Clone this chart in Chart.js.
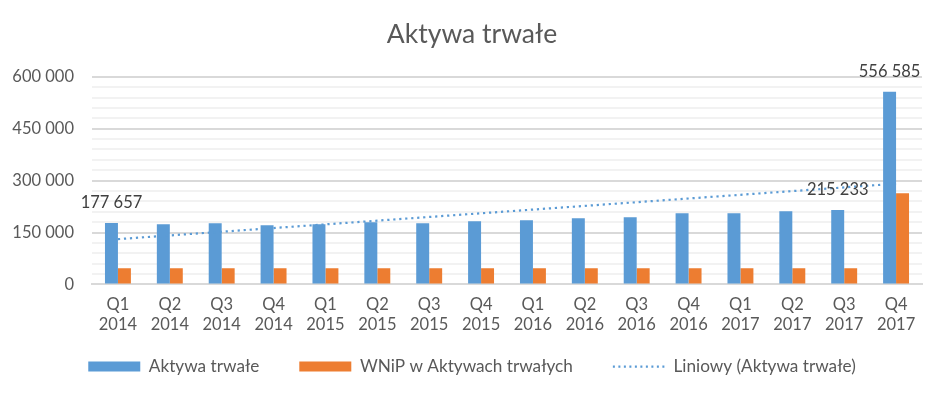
<!DOCTYPE html>
<html>
<head>
<meta charset="utf-8">
<script src="https://cdn.jsdelivr.net/npm/chart.js@4"></script>
<style>
  html, body { margin: 0; padding: 0; background: #fff; }
  #wrap { width: 944px; height: 397px; }
</style>
</head>
<body>
<div id="wrap"><canvas id="myChart" width="944" height="397"></canvas></div>
<script>
// Dane wykresu
const quarters = [
    ['Q1', '2014'], ['Q2', '2014'], ['Q3', '2014'], ['Q4', '2014'],
    ['Q1', '2015'], ['Q2', '2015'], ['Q3', '2015'], ['Q4', '2015'],
    ['Q1', '2016'], ['Q2', '2016'], ['Q3', '2016'], ['Q4', '2016'],
    ['Q1', '2017'], ['Q2', '2017'], ['Q3', '2017'], ['Q4', '2017']
];
const aktywaTrwale = [177657, 173600, 176600, 170700, 173600, 179400, 176600, 182300,
                      185200, 191000, 193900, 205500, 205500, 211300, 215233, 556585];
const wnip = [47000, 47000, 47000, 47000, 47000, 47000, 47000, 47000,
              47000, 47000, 47000, 47000, 47000, 47000, 47000, 263400];
const labelledPoints = [0, 14, 15]; // słupki z etykietą wartości
const yTicks = [0, 150000, 300000, 450000, 600000];

const textColor = '#595959';
const fontName = 'Lato';
const legendShift = 19; // przesunięcie legendy w górę (px)

// Linia trendu (regresja liniowa, jak w Excelu)
function linearTrend(values) {
    const n = values.length;
    let sx = 0, sy = 0, sxy = 0, sxx = 0;
    values.forEach((v, i) => {
        const x = i + 1;
        sx += x; sy += v; sxy += x * v; sxx += x * x;
    });
    const b = (n * sxy - sx * sy) / (n * sxx - sx * sx);
    const a = (sy - b * sx) / n;
    return values.map((v, i) => a + b * (i + 1));
}

function formatNumber(v) {
    return String(Math.round(v)).replace(/\B(?=(\d{3})+(?!\d))/g, ' ');
}

// Etykiety wartości nad wybranymi słupkami
const valueLabels = {
    id: 'valueLabels',
    afterDatasetsDraw(chart) {
        const ctx = chart.ctx;
        const meta = chart.getDatasetMeta(0);
        ctx.save();
        ctx.font = '16.5px ' + fontName;
        ctx.fillStyle = '#404040';
        ctx.textAlign = 'center';
        ctx.textBaseline = 'middle';
        labelledPoints.forEach(i => {
            const bar = meta.data[i];
            ctx.fillText(formatNumber(aktywaTrwale[i]), bar.x, bar.y - 20);
        });
        ctx.restore();
    }
};

// Legenda bliżej osi X (duży odstęp poziomy, mały pionowy)
const legendNudge = {
    id: 'legendNudge',
    afterLayout(chart) {
        if (chart.legend) {
            chart.legend.top -= legendShift;
            chart.legend.bottom -= legendShift;
        }
    }
};

const ctx = document.getElementById('myChart').getContext('2d');
const chart = new Chart(ctx, {
    type: 'bar',
    data: {
        labels: quarters,
        datasets: [
            {
                label: 'Aktywa trwałe',
                data: aktywaTrwale,
                backgroundColor: '#5B9BD5',
                borderWidth: 0,
                pointStyle: 'rect',
                order: 2
            },
            {
                label: 'WNiP w Aktywach trwałych',
                data: wnip,
                backgroundColor: '#ED7D31',
                borderWidth: 0,
                pointStyle: 'rect',
                order: 2
            },
            {
                type: 'line',
                label: 'Liniowy (Aktywa trwałe)',
                data: linearTrend(aktywaTrwale),
                borderColor: '#5B9BD5',
                backgroundColor: '#5B9BD5',
                borderWidth: 2.2,
                borderDash: [2.2, 3.8],
                pointRadius: 0,
                pointStyle: 'line',
                fill: false,
                order: 1
            }
        ]
    },
    options: {
        responsive: false,
        animation: false,
        layout: { padding: { left: 0, right: 0, top: 6, bottom: 0 } },
        datasets: {
            bar: { categoryPercentage: 0.5, barPercentage: 1.0 }
        },
        plugins: {
            title: {
                display: true,
                text: 'Aktywa trwałe',
                color: textColor,
                font: { family: fontName, size: 26.5, weight: 'normal' },
                padding: { top: 13, bottom: 26 }
            },
            legend: {
                position: 'bottom',
                maxHeight: 60,
                labels: {
                    usePointStyle: true,
                    pointStyleWidth: 52,
                    boxHeight: 10,
                    padding: 40,
                    color: textColor,
                    font: { family: fontName, size: 17.2 },
                    sort: (a, b) => a.datasetIndex - b.datasetIndex,
                    generateLabels(chart) {
                        const items = Chart.defaults.plugins.legend.labels.generateLabels(chart);
                        items.forEach(it => {
                            if (it.datasetIndex === 2) {
                                it.lineDash = [2, 3.5];
                                it.lineWidth = 2.2;
                                it.strokeStyle = '#5B9BD5';
                            }
                        });
                        return items;
                    }
                }
            },
            tooltip: { enabled: false }
        },
        scales: {
            x: {
                grid: { display: false },
                border: { color: '#d9d9d9', width: 2 },
                ticks: {
                    color: textColor,
                    font: { family: fontName, size: 16.5, lineHeight: 1.2 },
                    maxRotation: 0,
                    autoSkip: false,
                    padding: 2.5
                }
            },
            y: {
                min: 0,
                max: 600000,
                border: { display: false },
                afterFit: s => { s.width = 92; },
                grid: {
                    color: c => (yTicks.includes(c.tick.value) ? '#d9d9d9' : '#f2f2f2'),
                    lineWidth: 2,
                    drawTicks: false
                },
                ticks: {
                    stepSize: 30000,
                    autoSkip: false,
                    color: textColor,
                    padding: 18,
                    font: { family: fontName, size: 16.5 },
                    callback: v => (yTicks.includes(v) ? formatNumber(v) : '')
                }
            },
            // pusta oś po prawej – tylko margines
            yRight: {
                position: 'right',
                afterFit: s => { s.width = 22; },
                grid: { display: false },
                border: { display: false },
                ticks: { display: false }
            }
        }
    },
    plugins: [valueLabels, legendNudge]
});
</script>
</body>
</html>
